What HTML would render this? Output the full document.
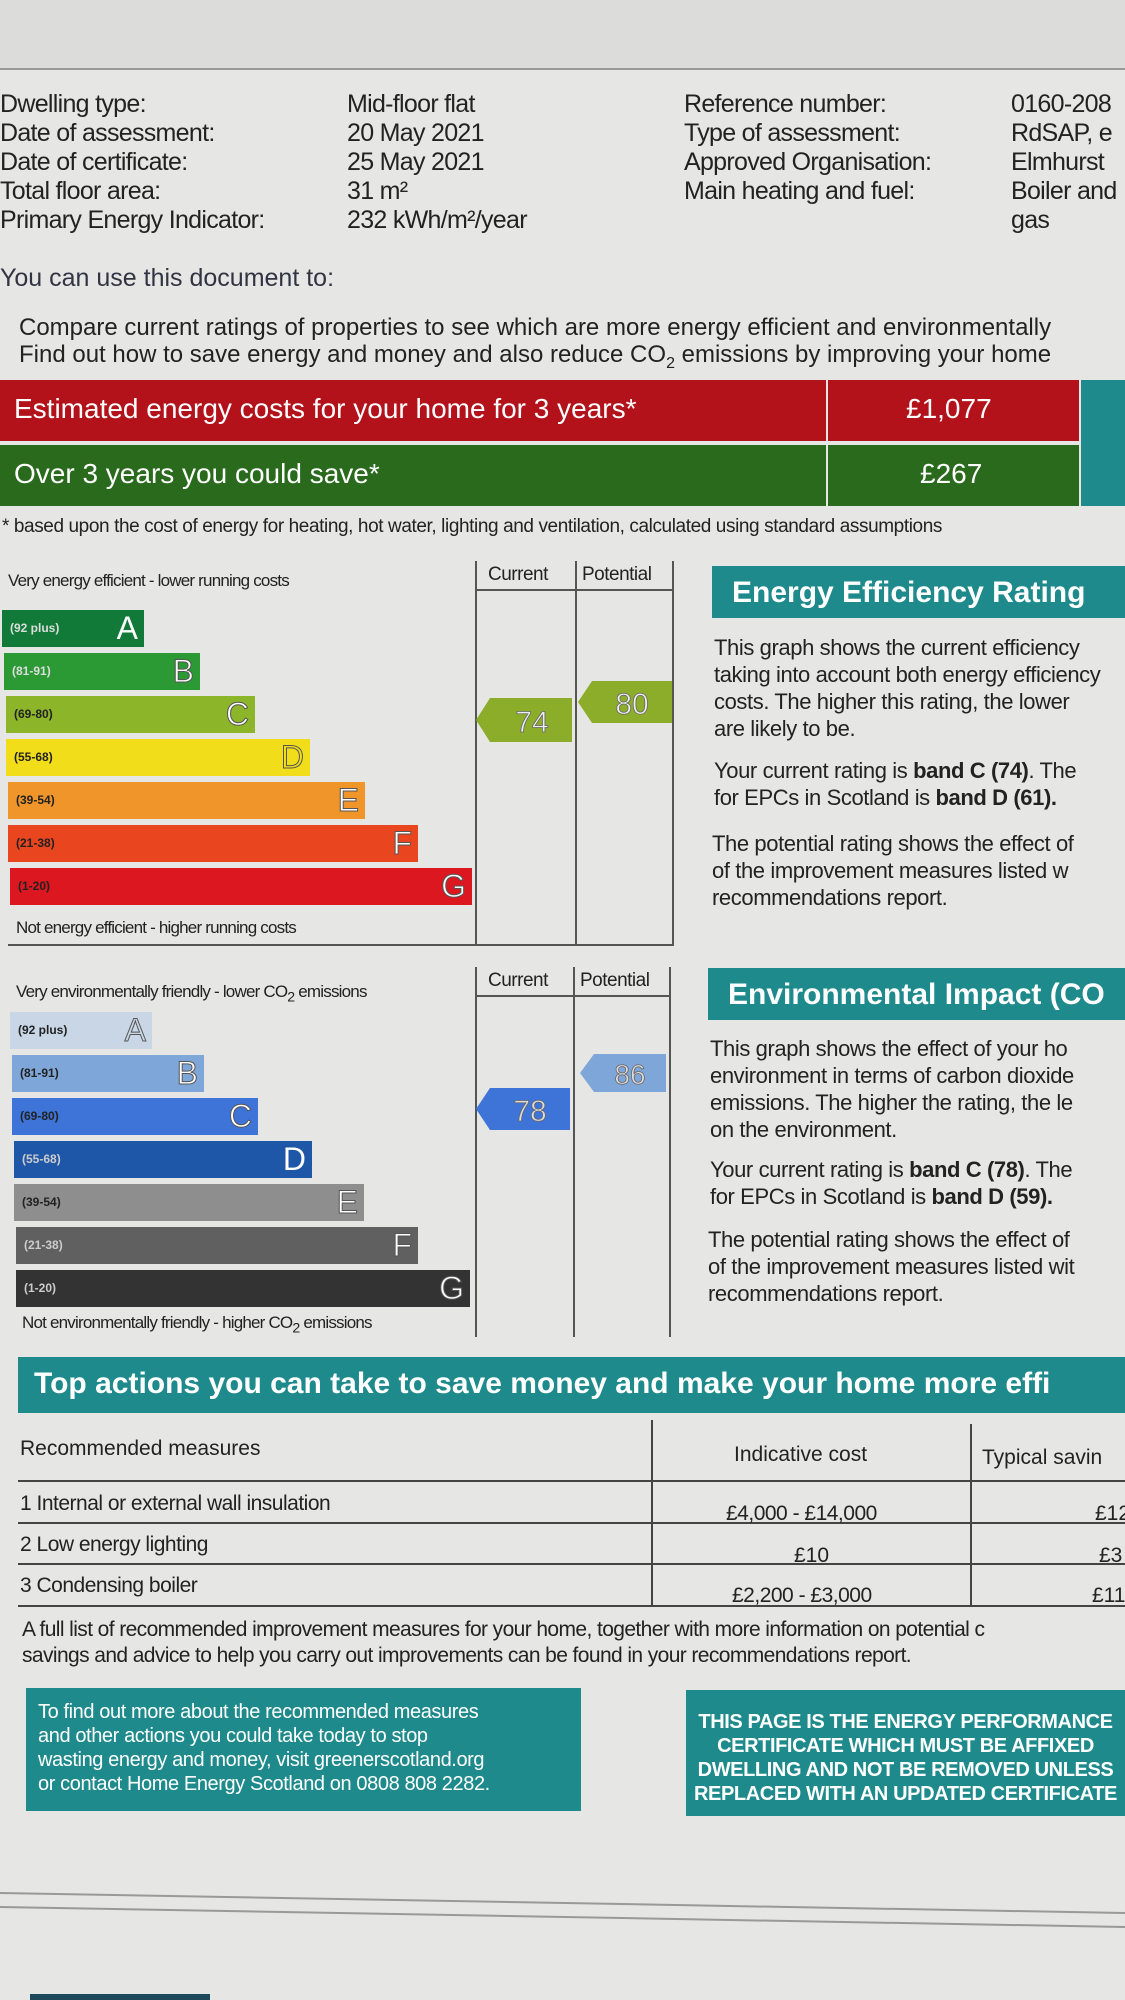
<!DOCTYPE html>
<html><head><meta charset="utf-8"><style>
*{margin:0;padding:0;box-sizing:border-box}
body{width:1125px;height:2000px;position:relative;overflow:hidden;background:#e6e6e4;font-family:"Liberation Sans",sans-serif;color:#222}
.a{position:absolute;white-space:nowrap}
.t{font-size:25px;letter-spacing:-0.7px}
.bar{position:absolute;height:37px;color:#fff;font-weight:bold}
.bar .r{position:absolute;left:8px;top:11px;font-size:12px;color:#222;font-weight:bold}
.bar .l{position:absolute;right:6px;top:0;font-size:32px;line-height:37px;font-weight:normal;-webkit-text-stroke:1px #555}
.teal{background:#1f8a8c;color:#fff}
.p{font-size:22px;letter-spacing:-0.4px;line-height:27px;color:#222}
</style></head><body>
<div class="a" style="left:0;top:0;width:1125px;height:70px;background:#dcdcda"></div>
<div class="a" style="left:0;top:68px;width:1125px;height:2px;background:#999"></div>

<div class="a t" style="left:0;top:90px;line-height:29px">Dwelling type:<br>Date of assessment:<br>Date of certificate:<br>Total floor area:<br>Primary Energy Indicator:</div>
<div class="a t" style="left:347px;top:90px;line-height:29px">Mid-floor flat<br>20 May 2021<br>25 May 2021<br>31 m²<br>232 kWh/m²/year</div>
<div class="a t" style="left:684px;top:90px;line-height:29px">Reference number:<br>Type of assessment:<br>Approved Organisation:<br>Main heating and fuel:</div>
<div class="a t" style="left:1011px;top:90px;line-height:29px">0160-208<br>RdSAP, e<br>Elmhurst<br>Boiler and<br>gas</div>

<div class="a" style="left:0;top:264px;font-size:25px;color:#334">You can use this document to:</div>
<div class="a" style="left:19px;top:314px;font-size:24px;line-height:27px">Compare current ratings of properties to see which are more energy efficient and environmentally<br>Find out how to save energy and money and also reduce CO<sub style="font-size:16px">2</sub> emissions by improving your home</div>

<div class="a" style="left:0;top:380px;width:826px;height:61px;background:#b3121a"></div>
<div class="a" style="left:828px;top:380px;width:251px;height:61px;background:#b3121a"></div>
<div class="a" style="left:1081px;top:380px;width:44px;height:126px;background:#1f8a8c"></div>
<div class="a" style="left:0;top:445px;width:826px;height:61px;background:#2a6a1c"></div>
<div class="a" style="left:828px;top:445px;width:251px;height:61px;background:#2a6a1c"></div>
<div class="a" style="left:14px;top:393px;font-size:28px;color:#fff">Estimated energy costs for your home for 3 years*</div>
<div class="a" style="left:906px;top:393px;font-size:28px;color:#fff">£1,077</div>
<div class="a" style="left:14px;top:458px;font-size:28px;color:#fff">Over 3 years you could save*</div>
<div class="a" style="left:920px;top:458px;font-size:28px;color:#fff">£267</div>
<div class="a" style="left:2px;top:516px;font-size:19px;letter-spacing:-0.4px">* based upon the cost of energy for heating, hot water, lighting and ventilation, calculated using standard assumptions</div>

<!-- energy chart -->
<div class="a" style="left:475px;top:561px;width:2px;height:384px;background:#555"></div>
<div class="a" style="left:575px;top:561px;width:2px;height:384px;background:#555"></div>
<div class="a" style="left:672px;top:561px;width:2px;height:384px;background:#555"></div>
<div class="a" style="left:475px;top:589px;width:199px;height:2px;background:#555"></div>
<div class="a" style="left:8px;top:944px;width:666px;height:2px;background:#555"></div>
<div class="a" style="left:488px;top:564px;font-size:19px;letter-spacing:-0.5px">Current</div>
<div class="a" style="left:582px;top:564px;font-size:19px;letter-spacing:-0.5px">Potential</div>
<div class="a" style="left:8px;top:571px;font-size:17px;letter-spacing:-0.8px">Very energy efficient - lower running costs</div>
<div class="a" style="left:16px;top:918px;font-size:17px;letter-spacing:-0.8px">Not energy efficient - higher running costs</div>
<div class="bar" style="left:2px;top:610px;width:142px;background:#117a38"><span class="r" style="color:#ddd">(92 plus)</span><span class="l" style="-webkit-text-stroke:0">A</span></div>
<div class="bar" style="left:4px;top:653px;width:196px;background:#2b9a35"><span class="r" style="color:#ddd">(81-91)</span><span class="l">B</span></div>
<div class="bar" style="left:6px;top:696px;width:249px;background:#8cb52a"><span class="r">(69-80)</span><span class="l">C</span></div>
<div class="bar" style="left:6px;top:739px;width:304px;background:#f2dd1a"><span class="r">(55-68)</span><span class="l" style="color:#f2dd1a">D</span></div>
<div class="bar" style="left:8px;top:782px;width:357px;background:#f0952a"><span class="r">(39-54)</span><span class="l">E</span></div>
<div class="bar" style="left:8px;top:825px;width:410px;background:#e9451f"><span class="r">(21-38)</span><span class="l">F</span></div>
<div class="bar" style="left:10px;top:868px;width:462px;background:#dd1720"><span class="r">(1-20)</span><span class="l">G</span></div>
<svg class="a" style="left:476px;top:698px" width="96" height="44"><polygon points="0,22 14,0 96,0 96,44 14,44" fill="#8cad2a"/><text x="56" y="34" font-size="30" fill="#eee" text-anchor="middle" font-family="Liberation Sans" stroke="#666" stroke-width="0.8">74</text></svg>
<svg class="a" style="left:578px;top:681px" width="94" height="42"><polygon points="0,21 14,0 94,0 94,42 14,42" fill="#8cad2a"/><text x="54" y="33" font-size="30" fill="#eee" text-anchor="middle" font-family="Liberation Sans" stroke="#666" stroke-width="0.8">80</text></svg>

<div class="a teal" style="left:712px;top:566px;width:413px;height:52px;font-size:30px;font-weight:bold;padding:10px 0 0 20px">Energy Efficiency Rating</div>
<div class="a p" style="left:714px;top:634px">This graph shows the current efficiency<br>taking into account both energy efficiency<br>costs. The higher this rating, the lower<br>are likely to be.</div>
<div class="a p" style="left:714px;top:757px">Your current rating is <b>band C (74)</b>. The<br>for EPCs in Scotland is <b>band D (61).</b></div>
<div class="a p" style="left:712px;top:830px">The potential rating shows the effect of<br>of the improvement measures listed w<br>recommendations report.</div>

<!-- env chart -->
<div class="a" style="left:475px;top:967px;width:2px;height:370px;background:#555"></div>
<div class="a" style="left:573px;top:967px;width:2px;height:370px;background:#555"></div>
<div class="a" style="left:669px;top:967px;width:2px;height:370px;background:#555"></div>
<div class="a" style="left:475px;top:995px;width:196px;height:2px;background:#555"></div>
<div class="a" style="left:488px;top:970px;font-size:19px;letter-spacing:-0.5px">Current</div>
<div class="a" style="left:580px;top:970px;font-size:19px;letter-spacing:-0.5px">Potential</div>
<div class="a" style="left:16px;top:982px;font-size:17px;letter-spacing:-0.8px">Very environmentally friendly - lower CO<sub>2</sub> emissions</div>
<div class="a" style="left:22px;top:1313px;font-size:17px;letter-spacing:-0.8px">Not environmentally friendly - higher CO<sub>2</sub> emissions</div>
<div class="bar" style="left:10px;top:1012px;width:142px;background:#c8d6e6"><span class="r">(92 plus)</span><span class="l" style="color:#c8d6e6">A</span></div>
<div class="bar" style="left:12px;top:1055px;width:192px;background:#7fa6d8"><span class="r">(81-91)</span><span class="l">B</span></div>
<div class="bar" style="left:12px;top:1098px;width:246px;background:#3e74d8"><span class="r">(69-80)</span><span class="l">C</span></div>
<div class="bar" style="left:14px;top:1141px;width:298px;background:#1f57a8"><span class="r" style="color:#ccc">(55-68)</span><span class="l" style="-webkit-text-stroke:0">D</span></div>
<div class="bar" style="left:14px;top:1184px;width:350px;background:#8e8e8e"><span class="r">(39-54)</span><span class="l">E</span></div>
<div class="bar" style="left:16px;top:1227px;width:402px;background:#606060"><span class="r" style="color:#ccc">(21-38)</span><span class="l">F</span></div>
<div class="bar" style="left:16px;top:1270px;width:454px;background:#333"><span class="r" style="color:#ccc">(1-20)</span><span class="l">G</span></div>
<svg class="a" style="left:476px;top:1088px" width="94" height="42"><polygon points="0,21 14,0 94,0 94,42 14,42" fill="#3e74d8"/><text x="54" y="33" font-size="30" fill="#ddd" text-anchor="middle" font-family="Liberation Sans" stroke="#666" stroke-width="0.8">78</text></svg>
<svg class="a" style="left:580px;top:1054px" width="86" height="38"><polygon points="0,19 14,0 86,0 86,38 14,38" fill="#7fa6d8"/><text x="50" y="30" font-size="28" fill="#ddd" text-anchor="middle" font-family="Liberation Sans" stroke="#666" stroke-width="0.8">86</text></svg>

<div class="a teal" style="left:708px;top:968px;width:417px;height:52px;font-size:30px;font-weight:bold;padding:10px 0 0 20px">Environmental Impact (CO</div>
<div class="a p" style="left:710px;top:1035px">This graph shows the effect of your ho<br>environment in terms of carbon dioxide<br>emissions. The higher the rating, the le<br>on the environment.</div>
<div class="a p" style="left:710px;top:1156px">Your current rating is <b>band C (78)</b>. The<br>for EPCs in Scotland is <b>band D (59).</b></div>
<div class="a p" style="left:708px;top:1226px">The potential rating shows the effect of<br>of the improvement measures listed wit<br>recommendations report.</div>

<!-- actions -->
<div class="a teal" style="left:18px;top:1357px;width:1107px;height:56px;font-size:30px;font-weight:bold;padding:10px 0 0 16px">Top actions you can take to save money and make your home more effi</div>
<div class="a" style="left:651px;top:1420px;width:2px;height:186px;background:#444"></div>
<div class="a" style="left:970px;top:1424px;width:2px;height:182px;background:#444"></div>
<div class="a" style="left:18px;top:1480px;width:1107px;height:2px;background:#444"></div>
<div class="a" style="left:18px;top:1522px;width:1107px;height:2px;background:#444"></div>
<div class="a" style="left:18px;top:1563px;width:1107px;height:2px;background:#444"></div>
<div class="a" style="left:18px;top:1605px;width:1107px;height:2px;background:#444"></div>
<div class="a" style="left:20px;top:1437px;font-size:21px">Recommended measures</div>
<div class="a" style="left:734px;top:1443px;font-size:21px">Indicative cost</div>
<div class="a" style="left:982px;top:1446px;font-size:21px">Typical savin</div>
<div class="a" style="left:20px;top:1492px;font-size:21px;letter-spacing:-0.5px">1 Internal or external wall insulation</div>
<div class="a" style="left:726px;top:1502px;font-size:21px;letter-spacing:-0.5px">£4,000 - £14,000</div>
<div class="a" style="left:1095px;top:1502px;font-size:21px">£12</div>
<div class="a" style="left:20px;top:1533px;font-size:21px;letter-spacing:-0.5px">2 Low energy lighting</div>
<div class="a" style="left:794px;top:1544px;font-size:21px">£10</div>
<div class="a" style="left:1099px;top:1544px;font-size:21px">£3</div>
<div class="a" style="left:20px;top:1574px;font-size:21px;letter-spacing:-0.5px">3 Condensing boiler</div>
<div class="a" style="left:732px;top:1584px;font-size:21px;letter-spacing:-0.5px">£2,200 - £3,000</div>
<div class="a" style="left:1092px;top:1584px;font-size:21px">£11</div>
<div class="a" style="left:22px;top:1617px;font-size:21px;line-height:26px;letter-spacing:-0.6px">A full list of recommended improvement measures for your home, together with more information on potential c<br>savings and advice to help you carry out improvements can be found in your recommendations report.</div>

<div class="a teal" style="left:26px;top:1688px;width:555px;height:123px;font-size:20px;line-height:24px;padding:12px 12px;letter-spacing:-0.4px">To find out more about the recommended measures<br>and other actions you could take today to stop<br>wasting energy and money, visit greenerscotland.org<br>or contact Home Energy Scotland on 0808 808 2282.</div>
<div class="a teal" style="left:686px;top:1690px;width:439px;height:126px;font-size:20px;line-height:24px;padding:20px 0 0 0;font-weight:bold;text-align:center;letter-spacing:-0.4px">THIS PAGE IS THE ENERGY PERFORMANCE<br>CERTIFICATE WHICH MUST BE AFFIXED<br>DWELLING AND NOT BE REMOVED UNLESS<br>REPLACED WITH AN UPDATED CERTIFICATE</div>

<svg class="a" style="left:0;top:1880px" width="1125" height="60"><line x1="0" y1="13" x2="1125" y2="33" stroke="#999" stroke-width="2"/><line x1="0" y1="27" x2="1125" y2="47" stroke="#999" stroke-width="2"/></svg>
<div class="a" style="left:30px;top:1994px;width:180px;height:6px;background:#1d4a5a"></div>
</body></html>
